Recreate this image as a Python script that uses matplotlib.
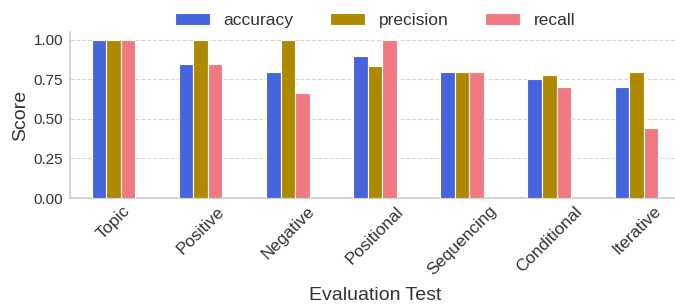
import matplotlib
matplotlib.use("Agg")
import matplotlib.pyplot as plt
import numpy as np

tests = ['Topic', 'Positive', 'Negative', 'Positional', 'Sequencing', 'Conditional', 'Iterative']
accuracy = [1.00, 0.85, 0.80, 0.90, 0.80, 0.75, 0.70]
precision = [1.00, 1.00, 1.00, 0.833, 0.80, 0.778, 0.80]
recall = [1.00, 0.85, 0.667, 1.00, 0.80, 0.70, 0.444]

series = [('accuracy', accuracy, '#4665DC'),
          ('precision', precision, '#AE8900'),
          ('recall', recall, '#F07A80')]

plt.rcParams['font.family'] = ['Liberation Sans', 'DejaVu Sans']
txt = '#333333'

fig = plt.figure(figsize=(6.75, 3.04), dpi=100)
ax = fig.add_axes([70 / 675, 106 / 304, 610 / 675, 166 / 304])

x = np.arange(len(tests))
w = 0.5 / 3
for i, (name, vals, col) in enumerate(series):
    ax.bar(x + (i - 1) * w, vals, w, color=col, edgecolor='white', linewidth=0.8, label=name, zorder=3)

ax.set_xlim(-0.5, len(tests) - 0.5)
ax.set_ylim(0, 1.05)
ax.set_yticks([0, 0.25, 0.5, 0.75, 1.0])
ax.set_yticklabels(['0.00', '0.25', '0.50', '0.75', '1.00'])
ax.set_xticks(x)
ax.set_xticklabels(tests, rotation=45, ha='center')
ax.tick_params(axis='y', length=0, labelsize=11, colors=txt, pad=5)
ax.tick_params(axis='x', length=0, labelsize=12.3, colors=txt, pad=4)
ax.yaxis.grid(True, linestyle='--', color='#d8d8d8', linewidth=0.8, zorder=0)
ax.set_axisbelow(True)
for s in ['top', 'right']:
    ax.spines[s].set_visible(False)
for s in ['left', 'bottom']:
    ax.spines[s].set_color('#cccccc')
    ax.spines[s].set_linewidth(1.2)

ax.set_ylabel('Score', fontsize=14, color=txt, labelpad=3)
ax.set_xlabel('Evaluation Test', fontsize=14, color=txt, labelpad=6)

ax.legend(loc='center', bbox_to_anchor=(0.5, 1.07), ncol=3, frameon=False,
          fontsize=12.5, handlelength=2.0, columnspacing=2.1, labelcolor=txt)

fig.savefig('out.png', dpi=100)
